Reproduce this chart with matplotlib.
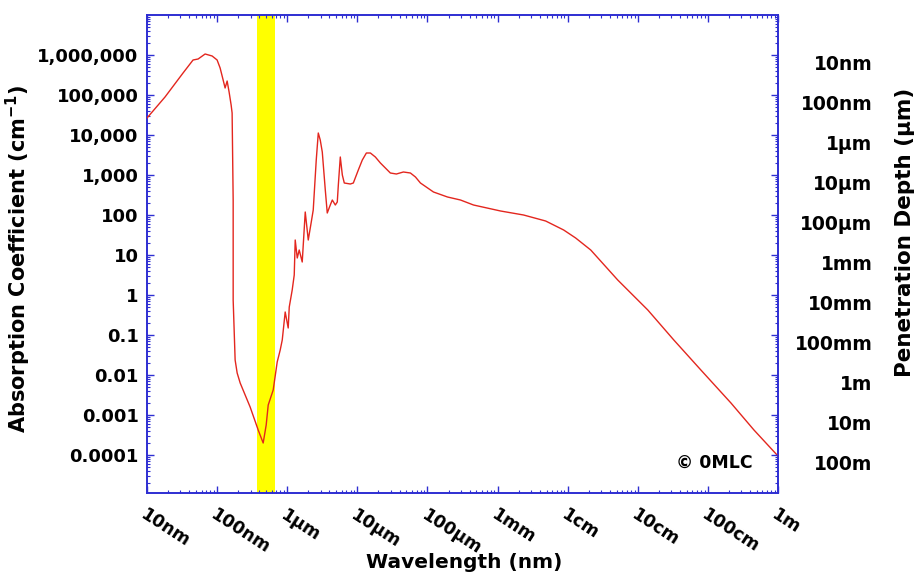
import numpy as np
import matplotlib
matplotlib.use('Agg')
import matplotlib.pyplot as plt
from matplotlib.ticker import LogLocator, NullFormatter

# absorption spectrum of water (log10 values)
log_wl_nm = [1.00, 1.257, 1.514, 1.657, 1.729, 1.829, 1.929, 2.000, 2.043, 2.086,
             2.114, 2.143, 2.171, 2.200, 2.214, 2.229, 2.229, 2.257, 2.286, 2.329,
             2.471, 2.586, 2.657, 2.700, 2.729, 2.800, 2.857, 2.900, 2.929, 2.971,
             3.014, 3.029, 3.071, 3.100, 3.114, 3.143, 3.171, 3.214, 3.257, 3.300,
             3.343, 3.371, 3.414, 3.443, 3.471, 3.500, 3.543, 3.571, 3.614, 3.643,
             3.686, 3.714, 3.729, 3.757, 3.786, 3.814, 3.900, 3.943, 4.014, 4.071,
             4.129, 4.186, 4.257, 4.329, 4.400, 4.471, 4.557, 4.657, 4.757, 4.829,
             4.900, 5.086, 5.286, 5.471, 5.657, 6.043, 6.371, 6.686, 6.943, 7.114,
             7.329, 7.714, 8.143, 8.514, 8.900, 9.329, 9.657, 10.0]
log_alpha = [4.425, 4.95, 5.55, 5.875, 5.90, 6.025, 5.975, 5.875, 5.675, 5.375,
             5.175, 5.35, 5.075, 4.75, 4.55, 2.375, -0.125, -1.625, -1.95, -2.2,
             -2.8, -3.375, -3.7, -3.25, -2.75, -2.375, -1.675, -1.375, -1.125, -0.425,
             -0.825, -0.3, 0.125, 0.5, 1.375, 0.925, 1.125, 0.825, 2.075, 1.375,
             1.825, 2.125, 3.375, 4.05, 3.875, 3.575, 2.625, 2.05, 2.25, 2.375,
             2.25, 2.325, 2.75, 3.45, 3.0, 2.8, 2.775, 2.8, 3.125, 3.375,
             3.55, 3.55, 3.45, 3.3, 3.175, 3.05, 3.025, 3.075, 3.05, 2.95,
             2.8, 2.575, 2.45, 2.375, 2.25, 2.1, 2.0, 1.85, 1.625, 1.425,
             1.125, 0.375, -0.375, -1.125, -1.875, -2.7, -3.375, -4.025]

visible_nm = [375, 675]

x_ticks = [1e1, 1e2, 1e3, 1e4, 1e5, 1e6, 1e7, 1e8, 1e9, 1e10]
x_labels = ['10nm', '100nm', '1µm', '10µm', '100µm', '1mm', '1cm', '10cm', '100cm', '1m']
y_ticks = [1e6, 1e5, 1e4, 1e3, 1e2, 1e1, 1, 1e-1, 1e-2, 1e-3, 1e-4]
y_labels = ['1,000,000', '100,000', '10,000', '1,000', '100', '10', '1',
            '0.1', '0.01', '0.001', '0.0001']
depth_labels = ['10nm', '100nm', '1µm', '10µm', '100µm', '1mm', '10mm',
                '100mm', '1m', '10m', '100m']

wl = 10 ** np.array(log_wl_nm)
alpha = 10 ** np.array(log_alpha)

blue = '#2e2ed2'
plt.rcParams['font.family'] = 'DejaVu Sans'
plt.rcParams['font.weight'] = 'bold'

fig = plt.figure(figsize=(9.19, 5.73), dpi=100)
ax = fig.add_axes([147 / 919, 80 / 573, 631 / 919, 478 / 573])
ax.set_xscale('log')
ax.set_yscale('log')
ax.set_xlim(10, 1e10)
ax.set_ylim(10 ** -4.95, 1e7)

ax.axvspan(visible_nm[0], visible_nm[1], color='#ffff00', lw=0, zorder=1)
ax.plot(wl, alpha, color='#e3261e', lw=1.0, zorder=3)

for s in ax.spines.values():
    s.set_color(blue)
    s.set_linewidth(1.4)

ax.set_xticks(x_ticks)
ax.set_xticklabels(x_labels, rotation=-33, ha='left', va='top',
                   rotation_mode='anchor', fontsize=12.5)
ax.set_yticks(y_ticks)
ax.set_yticklabels(y_labels, fontsize=13)
ax.xaxis.set_minor_locator(LogLocator(base=10, subs=np.arange(2, 10), numticks=100))
ax.yaxis.set_minor_locator(LogLocator(base=10, subs=np.arange(2, 10), numticks=100))
ax.xaxis.set_minor_formatter(NullFormatter())
ax.yaxis.set_minor_formatter(NullFormatter())
ax.tick_params(which='both', direction='in', color=blue, top=True, right=False)
ax.tick_params(which='major', length=5, width=1)
ax.tick_params(which='minor', length=2.5, width=0.8)
ax.tick_params(axis='x', pad=9)
ax.tick_params(axis='y', pad=6)

ax2 = ax.twinx()
ax2.set_yscale('log')
ax2.set_ylim(ax.get_ylim())
ax2.set_yticks(y_ticks)
ax2.set_yticklabels(depth_labels, fontsize=13.5)
ax2.yaxis.set_minor_locator(LogLocator(base=10, subs=np.arange(2, 10), numticks=100))
ax2.yaxis.set_minor_formatter(NullFormatter())
ax2.tick_params(which='both', direction='in', color=blue, pad=68)
ax2.tick_params(which='major', length=5, width=1)
ax2.tick_params(which='minor', length=2.5, width=0.8)
for lbl in ax2.get_yticklabels():
    lbl.set_ha('right')
    lbl.set_va('top')
for s in ax2.spines.values():
    s.set_visible(False)

ax.text(0.959, 0.063, '© 0MLC', transform=ax.transAxes, ha='right', va='center',
        fontsize=12.5)

fig.text(18 / 919, 1 - 259 / 573, 'Absorption Coefficient (cm$^{\\mathbf{-1}}$)',
         rotation=90, ha='center', va='center', fontsize=15)
fig.text(905 / 919, 1 - 232 / 573, 'Penetration Depth (µm)',
         rotation=90, ha='center', va='center', fontsize=15.5)
fig.text(464 / 919, 1 - 553 / 573, 'Wavelength (nm)', ha='center', va='top',
         fontsize=14.5)

fig.savefig('out.png', dpi=100, facecolor='white')
